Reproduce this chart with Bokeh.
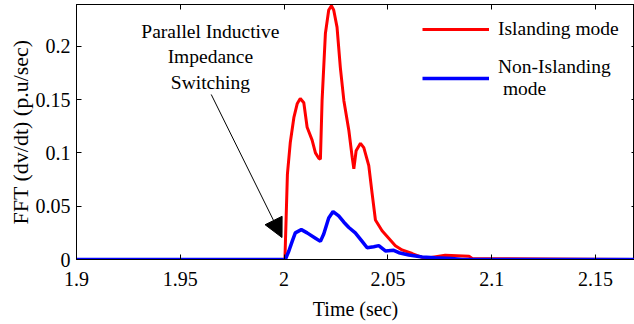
from bokeh.plotting import figure
from bokeh.models import (Range1d, FixedTicker, LinearAxis, Legend, LegendItem,
                          Label, Arrow, NormalHead)
from bokeh.embed import file_html
from bokeh.resources import INLINE

# ---------------- data ----------------
t_island = [1.90, 2.0000, 2.0004, 2.0010, 2.0016, 2.0030, 2.0047, 2.0063, 2.0078,
            2.0095, 2.0111, 2.0135, 2.0151, 2.0167, 2.0175, 2.0183, 2.0199, 2.0215,
            2.0228, 2.0239, 2.0255, 2.0271, 2.0288, 2.0312, 2.0328, 2.0336, 2.0347,
            2.0368, 2.0384, 2.0408, 2.0424, 2.0440, 2.0472, 2.0504, 2.0536, 2.0568,
            2.0617, 2.0665, 2.0679, 2.0776, 2.0891, 2.0906, 2.17]
v_island = [0.0, 0.0, 0.0, 0.040, 0.080, 0.110, 0.133, 0.146, 0.151,
            0.147, 0.124, 0.112, 0.100, 0.095, 0.094, 0.149, 0.212, 0.234,
            0.238, 0.234, 0.218, 0.180, 0.149, 0.121, 0.096, 0.085, 0.102,
            0.109, 0.105, 0.088, 0.062, 0.037, 0.027, 0.020, 0.013, 0.009,
            0.0056, 0.002, 0.001, 0.004, 0.003, 0.001, 0.0]

t_non = [1.90, 2.0006, 2.0023, 2.0039, 2.0054, 2.0083, 2.0111, 2.0151, 2.0175,
         2.0191, 2.0215, 2.0236, 2.0263, 2.0288, 2.0312, 2.0343, 2.0376, 2.0400,
         2.0432, 2.0456, 2.0488, 2.0528, 2.0553, 2.0601, 2.0665, 2.0727, 2.0809,
         2.0857, 2.17]
v_non = [0.0, 0.0, 0.008, 0.017, 0.025, 0.028, 0.025, 0.020, 0.017,
         0.024, 0.039, 0.045, 0.041, 0.035, 0.030, 0.025, 0.017, 0.011,
         0.012, 0.013, 0.008, 0.0086, 0.0064, 0.0042, 0.0023, 0.0017, 0.001,
         0.0, 0.0]

x_ticks = [1.9, 1.95, 2.0, 2.05, 2.1, 2.15]
x_tick_labels = ["1.9", "1.95", "2", "2.05", "2.1", "2.15"]
y_ticks = [0.0, 0.05, 0.1, 0.15, 0.2]
y_tick_labels = ["0", "0.05", "0.1", "0.15", "0.2"]

annot_lines = ["Parallel Inductive", "Impedance", "Switching"]
annot_x = 1.9645
annot_y = [0.2135, 0.190, 0.1665]
arrow_start = (1.9649, 0.1548)
arrow_end = (1.9990, 0.0206)

FONT = "Liberation Serif"

p = figure(width=634, height=324, output_backend="svg", toolbar_location=None,
           x_range=Range1d(1.9, 2.1688), y_range=Range1d(0, 0.2392),
           min_border_left=76, min_border_right=0, min_border_top=4,
           min_border_bottom=65, background_fill_color="white",
           border_fill_color="white")
p.grid.visible = False
p.outline_line_color = "black"
p.outline_line_width = 1

r1 = p.line(t_island, v_island, line_color="#ff0000", line_width=3)
r2 = p.line(t_non, v_non, line_color="#0000ff", line_width=3.5)

def style_axis(ax, ticks, labels):
    ax.ticker = FixedTicker(ticks=ticks)
    ax.major_label_overrides = {k: v for k, v in zip(ticks, labels)}
    ax.major_tick_in = 5
    ax.major_tick_out = 0
    ax.minor_tick_line_color = None
    ax.axis_line_color = "black"
    ax.major_tick_line_color = "black"
    ax.major_label_text_font = FONT
    ax.major_label_text_font_size = "20px"
    ax.major_label_text_color = "black"
    ax.axis_label_text_font = FONT
    ax.axis_label_text_font_size = "20px"
    ax.axis_label_text_font_style = "normal"
    ax.axis_label_text_color = "black"

xa = p.xaxis[0]
style_axis(xa, x_ticks, x_tick_labels)
xa.axis_label = "Time (sec)"
xa.major_label_standoff = 12
xa.axis_label_standoff = 9

ya = p.yaxis[0]
style_axis(ya, y_ticks, y_tick_labels)
ya.axis_label = "FFT (dv/dt) (p.u/sec)"
ya.axis_label_text_font_size = "22px"
ya.major_label_standoff = 6
ya.axis_label_standoff = 0

top = LinearAxis()
style_axis(top, x_ticks, ["" for _ in x_ticks])
top.major_label_text_font_size = "0px"
top.major_label_standoff = 0
p.add_layout(top, "above")

right = LinearAxis()
style_axis(right, y_ticks, ["" for _ in y_ticks])
right.major_label_text_font_size = "0px"
right.major_label_standoff = 0
right.major_tick_in = 3
right.axis_line_color = None
p.add_layout(right, "right")

for txt, yy in zip(annot_lines, annot_y):
    p.add_layout(Label(x=annot_x, y=yy, text=txt, text_align="center",
                       text_baseline="middle", text_font=FONT,
                       text_font_size="19.5px", text_color="black"))

p.add_layout(Arrow(end=NormalHead(size=19, fill_color="black", line_color="black"),
                   x_start=arrow_start[0], y_start=arrow_start[1],
                   x_end=arrow_end[0], y_end=arrow_end[1],
                   line_color="black", line_width=1))

legend = Legend(items=[LegendItem(label="Islanding mode", renderers=[r1]),
                       LegendItem(label="Non-Islanding\n mode", renderers=[r2])],
                location=(346, 159), padding=0, spacing=16,
                glyph_width=67, glyph_height=20, label_height=20,
                label_standoff=9, border_line_color=None,
                background_fill_alpha=0, label_text_font=FONT,
                label_text_font_size="19.5px", label_text_line_height=1.3,
                label_text_color="black")
p.add_layout(legend)

open("out.html", "w").write(file_html(p, INLINE))
